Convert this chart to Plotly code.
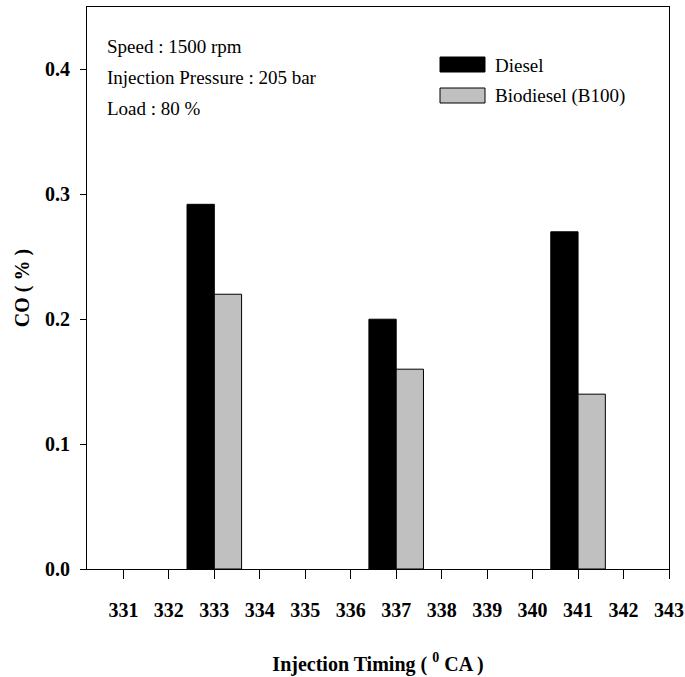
import plotly.graph_objects as go

# ---- data ----
timing = [333, 337, 341]
diesel = [0.292, 0.200, 0.270]
biodiesel = [0.220, 0.160, 0.140]
series_names = ["Diesel", "Biodiesel (B100)"]
x_ticks = list(range(331, 344))
y_ticks = [0.0, 0.1, 0.2, 0.3, 0.4]
info_lines = ["Speed : 1500 rpm", "Injection Pressure : 205 bar", "Load : 80 %"]

FONT = "Liberation Serif"
W, H = 685, 677
L, R, T, B = 87, 16, 7, 108
PW, PH = W - L - R, H - T - B

def px(x):
    return (x - L) / PW

def py(y):
    return (H - B - y) / PH

fig = go.Figure()
fig.add_trace(go.Bar(x=timing, y=diesel, name=series_names[0], width=0.6, offset=-0.6,
                     marker=dict(color="black", line=dict(color="black", width=1)),
                     showlegend=False))
fig.add_trace(go.Bar(x=timing, y=biodiesel, name=series_names[1], width=0.6, offset=0,
                     marker=dict(color="#c0c0c0", line=dict(color="black", width=1)),
                     showlegend=False))

annotations = []
for i, t in enumerate(info_lines):
    annotations.append(dict(text=t, x=px(105), y=py(47 + 31 * i), xref="paper", yref="paper",
                            xanchor="left", yanchor="middle", showarrow=False,
                            font=dict(family=FONT, size=19, color="black")))
shapes = []
leg_colors = ["black", "#c0c0c0"]
for i, (nm, c) in enumerate(zip(series_names, leg_colors)):
    top = 57 + 31 * i
    shapes.append(dict(type="rect", xref="paper", yref="paper",
                       x0=px(440), x1=px(485), y0=py(top + 15), y1=py(top),
                       fillcolor=c, line=dict(color="black", width=1)))
    annotations.append(dict(text=nm, x=px(493), y=py(top + 8), xref="paper", yref="paper",
                            xanchor="left", yanchor="middle", showarrow=False,
                            font=dict(family=FONT, size=19, color="black")))

fig.update_layout(
    width=W, height=H,
    margin=dict(l=L, r=R, t=T, b=B, autoexpand=False),
    paper_bgcolor="white", plot_bgcolor="white",
    barmode="overlay",
    font=dict(family=FONT, color="black"),
    annotations=annotations, shapes=shapes,
    showlegend=False,
)
fig.update_xaxes(
    range=[330.2, 343], tickvals=x_ticks, ticktext=[str(v) for v in x_ticks],
    ticks="outside", ticklen=9, tickcolor="black", tickwidth=1,
    showline=True, linecolor="black", linewidth=1, mirror=True,
    showgrid=False, zeroline=False,
    tickfont=dict(family=FONT, size=20, color="black", weight="bold"),
    ticklabelstandoff=14,
    title=dict(text="<b>Injection Timing ( <sup>0</sup> CA )</b>",
               font=dict(family=FONT, size=20, color="black"), standoff=36),
    automargin=False,
)
fig.update_yaxes(
    range=[0, 0.45], tickvals=y_ticks, ticktext=[f"{v:.1f}" for v in y_ticks],
    ticks="outside", ticklen=6, tickcolor="black", tickwidth=1,
    showline=True, linecolor="black", linewidth=1, mirror=True,
    showgrid=False, zeroline=False,
    tickfont=dict(family=FONT, size=20, color="black", weight="bold"),
    ticklabelstandoff=6,
    title=dict(text="<b>CO ( % )</b>", font=dict(family=FONT, size=20, color="black"), standoff=10),
    automargin=False,
)

fig.write_html("out.html", config={"displayModeBar": False},
               post_script="document.body.style.margin='0';document.body.style.overflow='hidden';")
